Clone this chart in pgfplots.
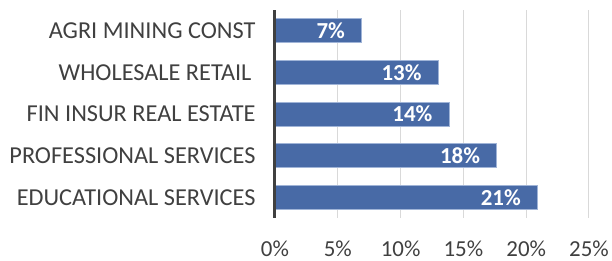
\documentclass[border=0pt]{standalone}
\usepackage{pgfplots}
\pgfplotsset{compat=1.18}
\usetikzlibrary{calc}
\usepackage{fontspec}
\setmainfont{Carlito}
\definecolor{barblue}{RGB}{72,106,166}
\definecolor{baredge}{RGB}{160,180,215}
\definecolor{gridc}{RGB}{217,217,217}
\definecolor{txt}{RGB}{64,64,64}
\definecolor{axc}{RGB}{64,64,64}
\begin{document}
\begin{tikzpicture}[font=\fontsize{21}{25}\selectfont]
\begin{axis}[
  scale only axis,
  width=314bp, height=208bp,
  xmin=0, xmax=25, ymin=-0.5, ymax=4.5,
  enlargelimits=false,
  y dir=reverse,
  xbar, bar width=24bp,
  axis line style={draw=none},
  major tick length=0pt,
  xtick={0,5,10,15,20,25},
  xticklabel={\pgfmathprintnumber{\tick}\%},
  ytick={0,1,2,3,4},
  yticklabels={AGRI MINING CONST, {WHOLESALE RETAIL\hspace*{4bp}}, FIN INSUR REAL ESTATE, PROFESSIONAL SERVICES, EDUCATIONAL SERVICES},
  /pgf/number format/assume math mode=true,
  every tick label/.append style={text=txt},
  xticklabel style={yshift=-19bp, font=\fontsize{23}{27}\selectfont},
  yticklabel style={xshift=-16bp, font=\fontsize{24.4}{28}\selectfont},
  xmajorgrids, grid style={gridc, line width=1bp},
  point meta=explicit symbolic,
  nodes near coords,
  nodes near coords style={anchor=east, xshift=-13bp, text=white, font=\fontsize{23}{27}\selectfont\bfseries},
  clip=false,
]
\addplot[fill=barblue, draw=baredge, line width=0.8bp] coordinates {
  (6.9,0) [7\%]
  (13.0,1) [13\%]
  (13.86,2) [14\%]
  (17.65,3) [18\%]
  (20.9,4) [21\%]
};
\draw[axc, line width=3bp] (axis cs:0,-0.5) -- (axis cs:0,4.5);
\end{axis}
\pgfresetboundingbox
\path ($(current axis.south west)+(-275bp,-43bp)$) rectangle ++(612bp,261bp);
\end{tikzpicture}
\end{document}
